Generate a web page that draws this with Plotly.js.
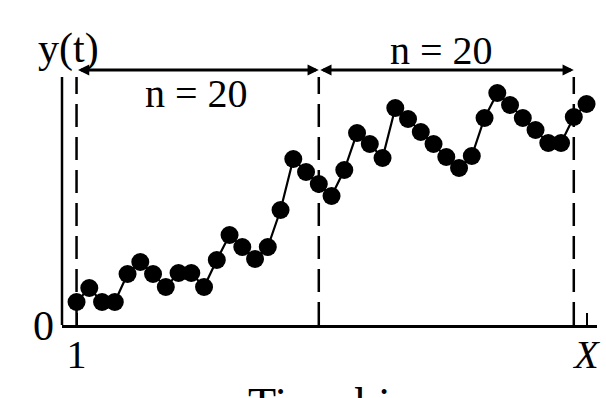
<!DOCTYPE html>
<html>
<head>
<meta charset="utf-8">
<script src="https://cdn.plot.ly/plotly-3.0.1.min.js"></script>
<style>
  html, body { margin: 0; padding: 0; background: #fff; }
  #chart { width: 606px; height: 398px; }
</style>
</head>
<body>
<div id="chart"></div>
<script>
// Time bin index and signal value y(t) in each bin
var bins = [1, 2, 3, 4, 5, 6, 7, 8, 9, 10,
            11, 12, 13, 14, 15, 16, 17, 18, 19, 20,
            21, 22, 23, 24, 25, 26, 27, 28, 29, 30,
            31, 32, 33, 34, 35, 36, 37, 38, 39, 40, 41];
var values = [2.3, 3.7, 2.3, 2.3, 5.1, 6.3, 5.1, 3.8, 5.2, 5.2,
              3.8, 6.5, 9.0, 7.8, 6.6, 7.8, 11.5, 16.6, 15.3, 14.1,
              12.9, 15.5, 19.2, 18.1, 16.7, 21.7, 20.6, 19.3, 18.1, 16.8,
              15.7, 16.9, 20.7, 23.2, 22.0, 20.7, 19.5, 18.2, 18.2, 20.8, 22.1];

// Window boundaries (bins) and the window label
var windowEdges = [1, 20, 40];
var windowLabel = 'n = 20';

// Axis ticks
var xTickVals = [1, 41];
var xTickText = ['1', '<i>X</i>'];
var yTickVals = [0];
var yTickText = ['0'];

var FONT = 'Liberation Serif, Times New Roman, serif';
var yTop = 24.8;     // top of the vertical axis line
var arrowY = 25.5;   // height of the window arrows

var trace = {
  x: bins,
  y: values,
  mode: 'lines+markers',
  line: { color: '#000', width: 2.2 },
  marker: { color: '#000', size: 18 },
  cliponaxis: false,
  hoverinfo: 'skip'
};

var shapes = [];
// vertical axis line
shapes.push({ type: 'line', xref: 'paper', yref: 'y', x0: 0, x1: 0, y0: 0, y1: yTop,
              line: { color: '#000', width: 2.5 } });
// dashed window boundaries
windowEdges.forEach(function (b) {
  shapes.push({ type: 'line', xref: 'x', yref: 'y', x0: b, x1: b, y0: 0, y1: yTop,
                line: { color: '#000', width: 2.5, dash: '23px,10px' } });
});

var annotations = [];
// double-headed arrows spanning each window
for (var i = 0; i < windowEdges.length - 1; i++) {
  annotations.push({
    xref: 'x', yref: 'y', axref: 'x', ayref: 'y',
    x: windowEdges[i + 1], y: arrowY, ax: windowEdges[i], ay: arrowY,
    text: '', showarrow: true, arrowside: 'end+start',
    arrowhead: 2, arrowsize: 0.8, arrowwidth: 2.8, arrowcolor: '#000',
    standoff: 0, startstandoff: 0
  });
}
// window labels
annotations.push({ xref: 'x', yref: 'y', x: 10.4, y: 23.2, text: windowLabel, showarrow: false,
                   font: { family: FONT, size: 40, color: '#000' } });
annotations.push({ xref: 'x', yref: 'y', x: 29.6, y: 27.5, text: windowLabel, showarrow: false,
                   font: { family: FONT, size: 40, color: '#000' } });
// y-axis label
annotations.push({ xref: 'x', yref: 'y', x: 0.35, y: 27.7, text: 'y(t)', showarrow: false,
                   font: { family: FONT, size: 42, color: '#000' } });
// x-axis label
annotations.push({ xref: 'paper', yref: 'paper', x: 0.52, y: -0.175, yanchor: 'top',
                   text: 'Time bins', showarrow: false,
                   font: { family: FONT, size: 46, color: '#000' } });

var layout = {
  width: 606, height: 398,
  margin: { l: 62, r: 9, t: 30, b: 73, pad: 0 },
  paper_bgcolor: '#fff', plot_bgcolor: '#fff',
  showlegend: false,
  xaxis: {
    range: [-0.14, 41.82],
    showgrid: false, zeroline: false,
    showline: true, linecolor: '#000', linewidth: 2.5,
    tickmode: 'array', tickvals: xTickVals, ticktext: xTickText,
    ticks: 'inside', ticklen: 12, tickwidth: 2, tickcolor: '#000',
    ticklabelstandoff: -8,
    tickfont: { family: FONT, size: 40, color: '#000' }
  },
  yaxis: {
    range: [0, 29.5],
    showgrid: false, zeroline: false, showline: false,
    tickmode: 'array', tickvals: yTickVals, ticktext: yTickText,
    ticks: '',
    ticklabelstandoff: 7,
    tickfont: { family: FONT, size: 42, color: '#000' }
  },
  shapes: shapes,
  annotations: annotations
};

Plotly.newPlot('chart', [trace], layout, { staticPlot: true });
</script>
</body>
</html>
